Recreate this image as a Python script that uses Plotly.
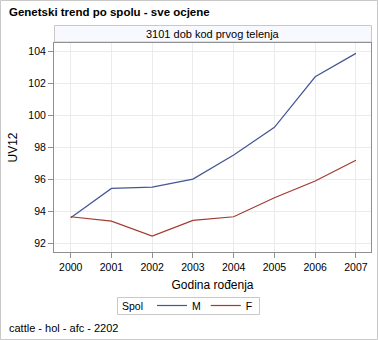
import plotly.graph_objects as go

# Genetic trend by sex, birth years 2000-2007
years = [2000, 2001, 2002, 2003, 2004, 2005, 2006, 2007]
uv12_m = [93.59, 95.43, 95.51, 96.01, 97.52, 99.26, 102.43, 103.90]
uv12_f = [93.65, 93.38, 92.44, 93.42, 93.65, 94.84, 95.89, 97.19]
y_ticks = [92, 94, 96, 98, 100, 102, 104]

W, H = 378, 340
L, R, T, B = 54, 371, 43, 252  # plot area in pixels
FONT = "Liberation Sans, Arial, sans-serif"


def px(x):
    return (x - L) / (R - L)


def py(y):
    return (B - y) / (B - T)


fig = go.Figure()
fig.add_trace(go.Scatter(x=years, y=uv12_m, mode="lines", name="M",
                         line=dict(color="#445694", width=1.2)))
fig.add_trace(go.Scatter(x=years, y=uv12_f, mode="lines", name="F",
                         line=dict(color="#A23A2E", width=1.2)))

axis_common = dict(
    showgrid=True, gridcolor="#EBEBEB", gridwidth=1,
    showline=True, linecolor="#8F8F8F", linewidth=1, mirror=True,
    ticks="outside", ticklen=5, tickcolor="#8F8F8F",
    tickfont=dict(family=FONT, size=10.5, color="#000000"),
    zeroline=False,
)

fig.update_layout(
    width=W, height=H,
    margin=dict(l=L, r=W - R, t=T, b=H - B, pad=0),
    paper_bgcolor="white", plot_bgcolor="white",
    font=dict(family=FONT, color="#000000"),
    xaxis=dict(range=[1999.59, 2007.37], tickvals=years,
               title=dict(text="Godina rođenja", font=dict(size=12), standoff=9),
               **axis_common),
    yaxis=dict(range=[91.44, 104.55], tickvals=y_ticks,
               title=dict(text="UV12", font=dict(size=12), standoff=8),
               **axis_common),
    legend=dict(
        orientation="h", x=px(152), xanchor="left", y=py(291), yanchor="top",
        borderwidth=0, bgcolor="rgba(0,0,0,0)",
        font=dict(size=10.5), itemwidth=30, tracegroupgap=0,
    ),
    showlegend=True,
)

# outer frame of the whole graphic
fig.add_shape(type="rect", xref="paper", yref="paper",
              x0=px(0.5), x1=px(W - 0.5), y0=py(0.5), y1=py(H - 0.5),
              line=dict(color="#C8C8C8", width=1), fillcolor="rgba(0,0,0,0)",
              layer="below")

# legend box with its title
fig.add_shape(type="rect", xref="paper", yref="paper",
              x0=px(117.5), x1=px(259.5), y0=py(297.5), y1=py(314.5),
              line=dict(color="#C8C8C8", width=1), fillcolor="rgba(0,0,0,0)",
              layer="below")
fig.add_annotation(text="Spol", xref="paper", yref="paper",
                   x=px(120), y=py(306), xanchor="left", yanchor="middle",
                   showarrow=False, font=dict(size=10.5))

# panel header strip
fig.add_shape(type="rect", xref="paper", yref="paper",
              x0=px(54.5), x1=px(371.5), y0=py(42), y1=py(25.5),
              line=dict(color="#C8C8C8", width=1), fillcolor="#F7F9FF",
              layer="below")
fig.add_annotation(text="3101 dob kod prvog telenja", xref="paper", yref="paper",
                   x=px(213), y=py(34), xanchor="center", yanchor="middle",
                   showarrow=False, font=dict(size=11))

fig.add_annotation(text="<b>Genetski trend po spolu - sve ocjene</b>",
                   xref="paper", yref="paper", x=px(7), y=py(12),
                   xanchor="left", yanchor="middle", showarrow=False,
                   font=dict(size=11.5))

fig.add_annotation(text="cattle - hol - afc - 2202", xref="paper", yref="paper",
                   x=px(7), y=py(328), xanchor="left", yanchor="middle",
                   showarrow=False, font=dict(size=11))

fig.write_html("out.html")
